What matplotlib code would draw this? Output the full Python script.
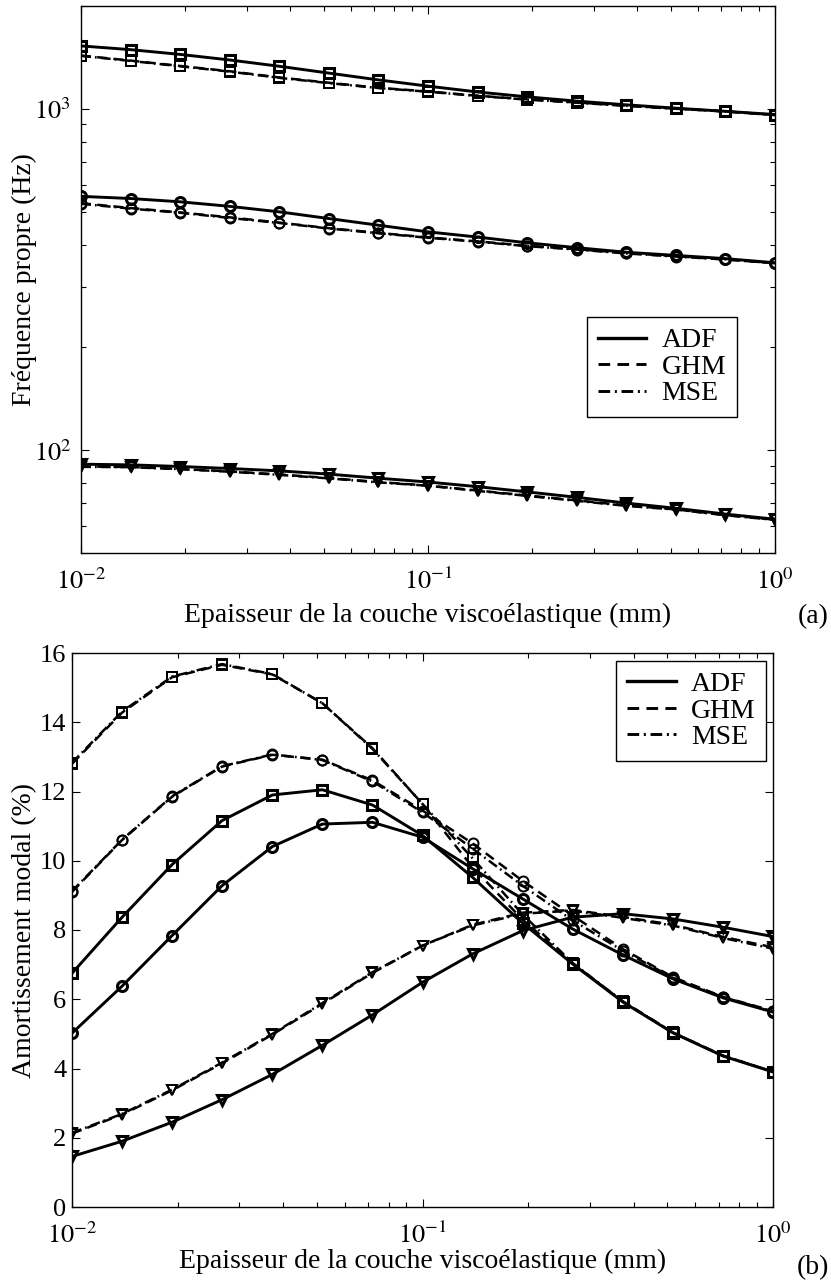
import numpy as np
import matplotlib
matplotlib.use("Agg")
import matplotlib.pyplot as plt
from matplotlib.lines import Line2D
from matplotlib.ticker import FixedLocator, FuncFormatter, LogLocator, NullFormatter

plt.rcParams['font.family'] = ['Liberation Serif', 'DejaVu Serif']
plt.rcParams['mathtext.fontset'] = 'stix'

# ---------------- data ----------------
thickness = [0.01, 0.0139, 0.0193, 0.0268, 0.0373, 0.0518, 0.0720, 0.1,
             0.139, 0.193, 0.268, 0.373, 0.518, 0.720, 1.0]

# (a) natural frequency (Hz)
freq_adf_m3 = [1528, 1490, 1443, 1390, 1332, 1272, 1215, 1165, 1120, 1084, 1053, 1027, 1004, 983, 962]
freq_mse_m3 = [1429, 1381, 1332, 1285, 1232, 1189, 1150, 1122, 1090, 1064, 1042, 1020, 1000, 982, 958]
freq_ghm_m3 = [1432, 1384, 1335, 1288, 1235, 1192, 1152, 1124, 1092, 1066, 1044, 1021, 1001, 983, 959]

freq_adf_m2 = [554, 546, 534, 518, 499, 477, 456, 436, 421, 405, 392, 380, 372, 364, 354]
freq_mse_m2 = [527, 510, 496, 479, 463, 446, 432, 419, 408, 396, 387, 377, 369, 362, 353]
freq_ghm_m2 = [529, 512, 497, 481, 464, 447, 433, 420, 409, 397, 388, 378, 370, 362, 353]

freq_adf_m1 = [91.0, 90.6, 89.6, 88.4, 87.0, 85.1, 82.8, 80.7, 78.2, 75.5, 72.8, 70.0, 67.6, 65.0, 62.8]
freq_mse_m1 = [89.4, 89.2, 88.0, 86.5, 84.7, 82.7, 80.5, 78.7, 76.0, 73.5, 71.1, 68.7, 67.0, 64.5, 62.5]
freq_ghm_m1 = [89.6, 89.3, 88.1, 86.7, 84.9, 82.9, 80.7, 78.8, 76.2, 73.7, 71.3, 68.9, 67.1, 64.6, 62.6]

# (b) modal damping (%)
damp_adf_m3 = [6.75, 8.37, 9.89, 11.16, 11.90, 12.05, 11.61, 10.73, 9.52, 8.20, 7.02, 5.92, 5.03, 4.36, 3.90]
damp_mse_m3 = [12.83, 14.31, 15.32, 15.68, 15.39, 14.55, 13.23, 11.64, 10.07, 8.45, 7.05, 5.94, 5.04, 4.37, 3.91]
damp_ghm_m3 = [12.80, 14.28, 15.30, 15.66, 15.38, 14.55, 13.25, 11.64, 9.81, 8.30, 7.04, 5.93, 5.04, 4.37, 3.91]

damp_adf_m2 = [5.02, 6.38, 7.84, 9.28, 10.41, 11.06, 11.11, 10.68, 9.77, 8.90, 8.03, 7.28, 6.59, 6.04, 5.63]
damp_mse_m2 = [9.12, 10.61, 11.86, 12.73, 13.07, 12.91, 12.29, 11.40, 10.35, 9.28, 8.28, 7.40, 6.62, 6.06, 5.65]
damp_ghm_m2 = [9.10, 10.60, 11.85, 12.72, 13.06, 12.92, 12.32, 11.45, 10.50, 9.42, 8.42, 7.45, 6.64, 6.07, 5.66]

damp_adf_m1 = [1.46, 1.90, 2.45, 3.10, 3.83, 4.67, 5.55, 6.49, 7.31, 7.98, 8.37, 8.47, 8.32, 8.08, 7.81]
damp_mse_m1 = [2.14, 2.69, 3.39, 4.17, 5.00, 5.89, 6.78, 7.55, 8.13, 8.47, 8.56, 8.35, 8.13, 7.77, 7.46]
damp_ghm_m1 = [2.12, 2.67, 3.37, 4.15, 4.98, 5.87, 6.76, 7.55, 8.15, 8.50, 8.58, 8.38, 8.15, 7.80, 7.50]

methods = ['ADF', 'GHM', 'MSE']
mode_markers = ['v', 'o', 's']

xlabel = 'Epaisseur de la couche viscoélastique (mm)'

# ---------------- styles ----------------
STY = {
    'ADF': dict(ls='-', lw=2.1, mew=2.2),
    'GHM': dict(ls=(0, (4.0, 2.5)), lw=1.8, mew=1.4),
    'MSE': dict(ls=(0, (4.0, 1.6, 0.7, 1.6)), lw=1.8, mew=1.4),
}
MS = 7.2
TICK_FS = 19
LABEL_FS = 20
LEG_FS = 20

fig = plt.figure(figsize=(8.31, 12.84), dpi=100)
W, H = 831, 1284
ax1 = fig.add_axes([81 / W, 1 - 553 / H, (775 - 81) / W, (553 - 6) / H])
ax2 = fig.add_axes([72 / W, 1 - 1207 / H, (773 - 72) / W, (1207 - 653) / H])


def plot_set(ax, data):
    for meth in ['MSE', 'GHM', 'ADF']:
        for series, mk in zip(data[meth], mode_markers):
            s = STY[meth]
            ax.plot(thickness, series, color='black', linestyle=s['ls'], lw=s['lw'],
                    marker=mk, ms=MS, mfc='none', mec='black', mew=s['mew'])


plot_set(ax1, {
    'ADF': [freq_adf_m1, freq_adf_m2, freq_adf_m3],
    'GHM': [freq_ghm_m1, freq_ghm_m2, freq_ghm_m3],
    'MSE': [freq_mse_m1, freq_mse_m2, freq_mse_m3],
})
plot_set(ax2, {
    'ADF': [damp_adf_m1, damp_adf_m2, damp_adf_m3],
    'GHM': [damp_ghm_m1, damp_ghm_m2, damp_ghm_m3],
    'MSE': [damp_mse_m1, damp_mse_m2, damp_mse_m3],
})

pow_fmt = FuncFormatter(lambda v, p: r'$10^{%d}$' % int(round(np.log10(v))))

for ax in (ax1, ax2):
    ax.set_xscale('log')
    ax.set_xlim(0.01, 1.0)
    ax.xaxis.set_major_locator(FixedLocator([0.01, 0.1, 1.0]))
    ax.xaxis.set_major_formatter(pow_fmt)
    ax.xaxis.set_minor_locator(LogLocator(base=10, subs=np.arange(2, 10)))
    ax.xaxis.set_minor_formatter(NullFormatter())
    ax.tick_params(which='both', direction='in', top=True, right=True,
                   labelsize=TICK_FS, width=0.8)
    ax.tick_params(which='major', length=5.5)
    ax.tick_params(which='minor', length=3.5)
    ax.tick_params(axis='x', pad=11)
    for sp in ax.spines.values():
        sp.set_linewidth(1.0)

ax1.set_yscale('log')
ax1.set_ylim(50, 2000)
ax1.yaxis.set_major_locator(FixedLocator([100, 1000]))
ax1.yaxis.set_major_formatter(pow_fmt)
ax1.yaxis.set_minor_locator(LogLocator(base=10, subs=np.arange(2, 10)))
ax1.yaxis.set_minor_formatter(NullFormatter())
ax1.tick_params(axis='y', pad=7)

ax2.set_ylim(0, 16)
ax2.set_yticks(np.arange(0, 17, 2))
ax2.tick_params(axis='y', pad=4)

ax1.set_xlabel(xlabel, fontsize=LABEL_FS)
ax1.set_ylabel('Fréquence propre (Hz)', fontsize=LABEL_FS)
ax2.set_xlabel(xlabel, fontsize=LABEL_FS)
ax2.set_ylabel('Amortissement modal (%)', fontsize=LABEL_FS)
for ax, xy, yx in ((ax1, -0.115, -0.082), (ax2, -0.099, -0.068)):
    ax.xaxis.label.set_va('center')
    ax.xaxis.set_label_coords(0.5, xy)
    ax.yaxis.label.set_va('center')
    ax.yaxis.set_label_coords(yx, 0.5)

handles = [Line2D([], [], color='black', linestyle=STY[m]['ls'], lw=STY[m]['lw'] + 0.3) for m in methods]
leg_kw = dict(fontsize=LEG_FS, loc='upper right', fancybox=False, framealpha=1,
              edgecolor='black', handlelength=1.75, handletextpad=0.55,
              labelspacing=0.04, borderpad=0.38, borderaxespad=0)
l1 = ax1.legend(handles, methods, bbox_to_anchor=(0.945, 0.431), **leg_kw)
l2 = ax2.legend(handles, methods, bbox_to_anchor=(0.990, 0.9856), **leg_kw)
for lg in (l1, l2):
    lg.get_frame().set_linewidth(1.0)

fig.text(813 / W, 1 - 617 / H, '(a)', fontsize=LABEL_FS, ha='center', va='center')
fig.text(813 / W, 1 - 1268 / H, '(b)', fontsize=LABEL_FS, ha='center', va='center')

fig.savefig('out.png', dpi=100)
